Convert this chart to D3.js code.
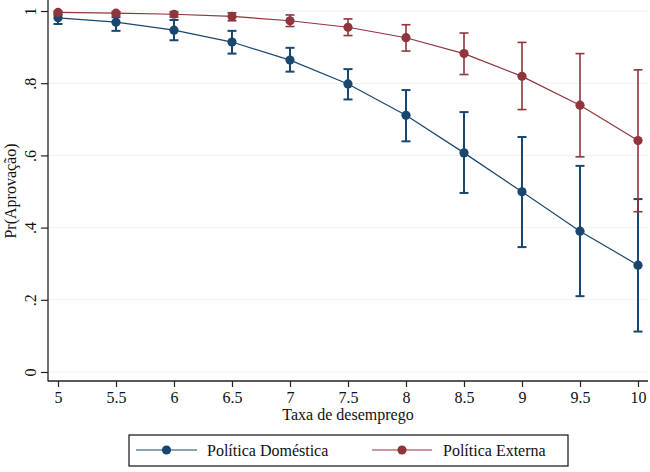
<!DOCTYPE html>
<html lang="pt">
  <head>
    <meta charset="UTF-8" />
    <title>Pr(Aprovação) por taxa de desemprego</title>
    <style>
      html,
      body {
        margin: 0;
        padding: 0;
        background: #fff;
      }
      svg {
        display: block;
      }
    </style>
    <script src="https://cdn.jsdelivr.net/npm/d3@7/dist/d3.min.js"></script>
  </head>
  <body>
    <script>
      const taxa = [5, 5.5, 6, 6.5, 7, 7.5, 8, 8.5, 9, 9.5, 10];

      const domestica = [0.981, 0.969, 0.947, 0.914, 0.864, 0.798, 0.711, 0.607, 0.499, 0.39, 0.296];
      const domesticaLo = [0.964, 0.945, 0.919, 0.882, 0.832, 0.755, 0.639, 0.496, 0.346, 0.21, 0.112];
      const domesticaHi = [0.989, 0.983, 0.975, 0.945, 0.898, 0.839, 0.781, 0.72, 0.651, 0.571, 0.479];

      const externa = [0.996, 0.994, 0.991, 0.985, 0.973, 0.955, 0.926, 0.882, 0.819, 0.739, 0.641];
      const externaLo = [0.993, 0.989, 0.983, 0.973, 0.957, 0.932, 0.889, 0.824, 0.727, 0.596, 0.444];
      const externaHi = [0.999, 0.998, 0.998, 0.995, 0.989, 0.978, 0.962, 0.939, 0.913, 0.882, 0.837];

      const yTicks = [0, 0.2, 0.4, 0.6, 0.8, 1];
      const yTickLabels = ["0", ".2", ".4", ".6", ".8", "1"];

      const width = 650;
      const height = 472;
      const blue = "#1a476f";
      const red = "#90353b";
      const serif = "'Liberation Serif', 'Times New Roman', serif";

      const series = [
        { name: "Política Doméstica", color: blue, barWidth: 2, est: domestica, lo: domesticaLo, hi: domesticaHi },
        { name: "Política Externa", color: red, barWidth: 1.6, est: externa, lo: externaLo, hi: externaHi },
      ];

      const x = d3.scaleLinear().domain([5, 10]).range([58, 638]);
      const y = d3.scaleLinear().domain([0, 1]).range([372, 11]);

      const svg = d3
        .select(document.body)
        .append("svg")
        .attr("width", width)
        .attr("height", height)
        .attr("viewBox", [0, 0, width, height]);

      // grid lines
      svg
        .append("g")
        .selectAll("line")
        .data(yTicks)
        .join("line")
        .attr("x1", 48)
        .attr("x2", 648)
        .attr("y1", (d) => y(d))
        .attr("y2", (d) => y(d))
        .attr("stroke", "#edf1f3")
        .attr("stroke-width", 1);

      // y axis
      const yAxis = svg
        .append("g")
        .attr("transform", "translate(48,0)")
        .call(d3.axisLeft(y).tickValues(yTicks).tickSize(7).tickFormat((d, i) => yTickLabels[i]));
      yAxis.select(".domain").attr("d", "M0,0V381.5").attr("stroke", "#222").attr("stroke-width", 1.3);
      yAxis.selectAll(".tick line").attr("stroke", "#222").attr("stroke-width", 1.2);
      yAxis
        .selectAll(".tick text")
        .style("font-family", serif)
        .style("font-size", "16px")
        .attr("fill", "#111")
        .attr("text-anchor", "middle")
        .attr("dy", null)
        .attr("x", null)
        .attr("transform", "translate(-12,0) rotate(-90)");

      // x axis
      const xAxis = svg
        .append("g")
        .attr("transform", "translate(0,381)")
        .call(d3.axisBottom(x).tickValues(taxa).tickSize(6).tickFormat(d3.format("")));
      xAxis.select(".domain").attr("d", "M48,0H648").attr("stroke", "#222").attr("stroke-width", 1.3);
      xAxis.selectAll(".tick line").attr("stroke", "#222").attr("stroke-width", 1.2);
      xAxis
        .selectAll(".tick text")
        .style("font-family", serif)
        .style("font-size", "16px")
        .attr("fill", "#111")
        .attr("dy", null)
        .attr("y", 22);

      // axis titles
      svg
        .append("text")
        .attr("x", 348)
        .attr("y", 420)
        .attr("text-anchor", "middle")
        .style("font-family", serif)
        .style("font-size", "16px")
        .attr("fill", "#111")
        .text("Taxa de desemprego");

      svg
        .append("text")
        .attr("transform", "translate(16,191) rotate(-90)")
        .attr("text-anchor", "middle")
        .style("font-family", serif)
        .style("font-size", "16px")
        .attr("fill", "#111")
        .text("Pr(Aprovação)");

      const line = d3
        .line()
        .x((d, i) => x(taxa[i]))
        .y((d) => y(d));

      series.forEach((s) => {
        const g = svg.append("g");

        g.append("path")
          .attr("d", line(s.est))
          .attr("fill", "none")
          .attr("stroke", s.color)
          .attr("stroke-width", 1.2);

        const bars = g.append("g").attr("stroke", s.color).attr("stroke-width", s.barWidth);
        bars
          .selectAll("line.v")
          .data(taxa)
          .join("line")
          .attr("class", "v")
          .attr("x1", (d) => x(d))
          .attr("x2", (d) => x(d))
          .attr("y1", (d, i) => y(s.lo[i]))
          .attr("y2", (d, i) => y(s.hi[i]));
        ["lo", "hi"].forEach((k) => {
          bars
            .selectAll("line." + k)
            .data(taxa)
            .join("line")
            .attr("class", k)
            .attr("x1", (d) => x(d) - 4.5)
            .attr("x2", (d) => x(d) + 4.5)
            .attr("y1", (d, i) => y(s[k][i]))
            .attr("y2", (d, i) => y(s[k][i]));
        });

        g.selectAll("circle")
          .data(s.est)
          .join("circle")
          .attr("cx", (d, i) => x(taxa[i]))
          .attr("cy", (d) => y(d))
          .attr("r", 4.6)
          .attr("fill", s.color);
      });

      // legend
      const legend = svg.append("g");
      legend
        .append("rect")
        .attr("x", 129)
        .attr("y", 435)
        .attr("width", 439)
        .attr("height", 31)
        .attr("fill", "#fff")
        .attr("stroke", "#111")
        .attr("stroke-width", 1.2);

      const legendPos = [
        { x0: 136, x1: 197, tx: 207 },
        { x0: 372, x1: 432, tx: 443 },
      ];
      series.forEach((s, i) => {
        const p = legendPos[i];
        legend
          .append("line")
          .attr("x1", p.x0)
          .attr("x2", p.x1)
          .attr("y1", 450)
          .attr("y2", 450)
          .attr("stroke", s.color)
          .attr("stroke-width", 1.2);
        legend
          .append("circle")
          .attr("cx", (p.x0 + p.x1) / 2)
          .attr("cy", 450)
          .attr("r", 4.6)
          .attr("fill", s.color);
        legend
          .append("text")
          .attr("x", p.tx)
          .attr("y", 456)
          .style("font-family", serif)
          .style("font-size", "16px")
          .attr("fill", "#111")
          .text(s.name);
      });
    </script>
  </body>
</html>
